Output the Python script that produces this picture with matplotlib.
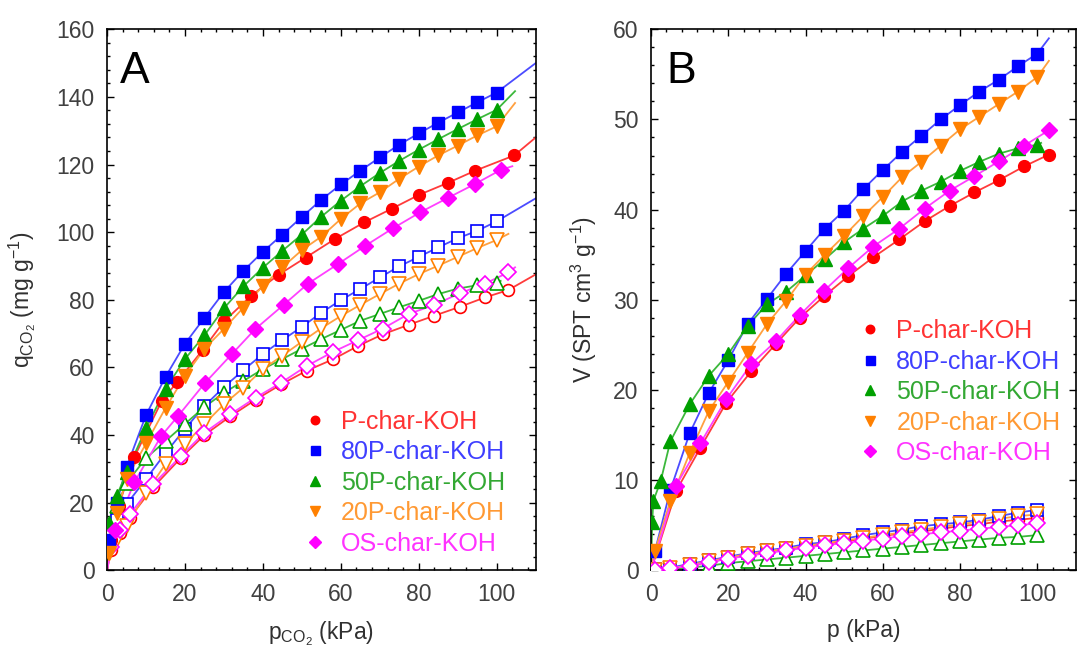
import numpy as np
import matplotlib.pyplot as plt
from matplotlib.lines import Line2D
from matplotlib.ticker import MultipleLocator, AutoMinorLocator

plt.rcParams.update({"font.family": ["Liberation Sans", "DejaVu Sans"],
                     "font.size": 16.5,
                     "mathtext.default": "regular"})

names = ["P-char-KOH", "80P-char-KOH", "50P-char-KOH", "20P-char-KOH", "OS-char-KOH"]
mk = ["o", "s", "^", "v", "D"]
mcol = ["#ff0000", "#0000ff", "#00a000", "#ff8000", "#ff00ff"]
lcol = ["#ff3b3b", "#4b4bff", "#3cb83c", "#ffa040", "#ff40ff"]
tcol = ["#ff3333", "#3f3fff", "#33a833", "#ff9933", "#ff33ff"]
msz = [8.5, 9, 9.5, 9.5, 8]

# ---- panel A : q_CO2 (mg/g) vs p_CO2 (kPa)
x5 = [0.5, 2.5, 5, 10, 15, 20, 25, 30, 35, 40, 45, 50, 55, 60, 65, 70, 75, 80, 85, 90, 95, 100]
x7 = [1, 3.3, 5.8, 11.8, 19, 25, 31.6, 38.2, 44.7, 51.2, 58, 64.5, 70.8, 77.4, 84, 90.5, 97, 103]

a_x_fill = [
    [1, 3, 7, 14, 18, 24.5, 30, 37, 44, 51, 58.5, 66, 73, 80, 87.5, 94.5, 104.5],
    x5, x5, x5,
    [2, 7, 13.9, 18.2, 25.2, 32, 38, 45.3, 51.6, 59.3, 66.3, 73.3, 80.4, 87.4, 94.5, 101],
]
a_y_fill = [
    [9, 19, 33.5, 50, 55.7, 65.1, 73.6, 81.2, 87.4, 92.5, 98, 102.9, 106.9, 111, 114.6, 118.2, 122.7],
    [9, 20, 30.5, 45.9, 57.2, 67, 74.7, 82.3, 88.6, 94.2, 99.3, 104.5, 109.6, 114.1, 118.2, 122.1, 125.9, 129.2, 132.4, 135.4, 138.4, 141.3],
    [14, 22, 29, 42, 53.6, 62.5, 69.5, 77.5, 84, 89.5, 94.5, 99.3, 104.6, 109.3, 113.6, 117.5, 121.1, 124.4, 127.5, 130.5, 133.4, 136.2],
    [5, 17, 27, 37.5, 48, 57.5, 65.5, 71.4, 77.7, 84.1, 89.6, 94.7, 98.7, 103.9, 108.5, 111.8, 115.8, 119.4, 122.7, 125.6, 128.6, 131.3],
    [12, 26, 39.7, 45.6, 55.5, 63.9, 71.3, 78.5, 84.8, 90.6, 96, 101.1, 105.9, 110.1, 114.3, 118.4],
]
a_end_fill = [(110, 128), (110, 150), (104.7, 141.7), (104.7, 138.2), (104, 119.5)]

a_x_open = [x7, x5, x5, x5, x7]
a_y_open = [
    [6, 11, 15.5, 24.5, 33.3, 40, 45.5, 50.5, 55, 59, 62.4, 66.4, 69.8, 72.6, 75.3, 77.9, 80.7, 82.9],
    [9.5, 15, 19.5, 27, 34.7, 41.8, 48.6, 54.2, 59.2, 64, 68.1, 72, 76.2, 79.9, 83.2, 86.6, 89.9, 92.7, 95.5, 98.2, 100.4, 103.2],
    [12, 19, 25.8, 33.2, 38.2, 43.3, 48.3, 52.5, 56, 59.5, 62.5, 65.5, 68.4, 71.1, 73.8, 75.8, 77.8, 79.7, 81.7, 83.3, 84.3, 85.1],
    [5, 9, 13, 22.9, 31.4, 37.3, 43.3, 49.1, 54, 59.5, 63.5, 67.6, 71.6, 75.2, 78.5, 81.7, 84.8, 87.6, 90.1, 92.7, 95.3, 97.7],
    [7, 12, 16.5, 25.4, 33.8, 40.7, 46.1, 51.1, 55.5, 60.4, 64.6, 68.1, 71.5, 75.8, 78.5, 81.9, 84.8, 88.1],
]
a_end_open = [(110, 87.5), (110, 110), (101, 85.6), (103, 99.5), (104.7, 89.6)]

# ---- panel B : V (cm3/g) vs p (kPa)
xb = [1, 5, 10, 15, 20, 25, 30, 35, 40, 45, 50, 55, 60, 65, 70, 75, 80, 85, 90, 95, 100]
xb7 = [6.5, 12.8, 19.5, 26, 32.3, 38.5, 44.8, 51, 57.5, 64.3, 70.8, 77.3, 83.7, 90.2, 96.6, 103]

b_x_fill = [xb7, xb,
            [0.3, 0.6, 2.5, 5, 10, 15, 20, 25, 30, 35, 40, 45, 50, 55, 60, 65, 70, 75, 80, 85, 90, 95, 100],
            xb, xb7]
b_y_fill = [
    [8.8, 13.6, 18.6, 22.1, 25.1, 28, 30.4, 32.6, 34.7, 36.7, 38.7, 40.4, 41.9, 43.3, 44.8, 46.1],
    [2.1, 8.9, 15.2, 19.7, 23.3, 27.3, 30.1, 32.9, 35.4, 37.9, 39.9, 42.3, 44.4, 46.4, 48.2, 50, 51.6, 53.1, 54.4, 55.9, 57.3],
    [5.4, 7.7, 9.9, 14.3, 18.4, 21.6, 24, 27.1, 29.5, 30.9, 32.7, 34.5, 36.4, 37.9, 39.3, 40.9, 42.1, 43.1, 44.3, 45.3, 46.2, 46.8, 47.2],
    [2.1, 7.7, 13, 17.7, 20.9, 24.1, 27.3, 29.9, 32.8, 35, 37.1, 39.3, 41.4, 43.6, 45.3, 47.1, 48.9, 50.3, 51.7, 53.1, 54.7],
    [9.4, 14.1, 19, 22.9, 25.4, 28.3, 31, 33.5, 35.9, 37.9, 40.1, 42.1, 43.7, 45.4, 47.1, 48.8],
]
b_end_fill = [(103.5, 46.4), (103, 59), (101, 47.4), (103, 56.5), (103.5, 49)]

b_y_open = [
    [0.0, 0.2, 0.5, 0.9, 1.3, 1.7, 2.0, 2.3, 2.6, 2.9, 3.2, 3.5, 3.8, 4.1, 4.3, 4.6, 4.9, 5.1, 5.4, 5.6, 5.8],
    [0.1, 0.3, 0.7, 1.1, 1.5, 1.9, 2.2, 2.5, 2.9, 3.1, 3.5, 3.9, 4.2, 4.5, 4.9, 5.1, 5.3, 5.6, 6.0, 6.4, 6.7],
    [0.0, 0.1, 0.3, 0.5, 0.8, 1.0, 1.2, 1.4, 1.6, 1.8, 2.0, 2.2, 2.4, 2.6, 2.8, 3.0, 3.2, 3.4, 3.6, 3.7, 3.9],
    [0.0, 0.2, 0.6, 1.0, 1.4, 1.8, 2.1, 2.4, 2.7, 3.0, 3.3, 3.6, 3.9, 4.2, 4.5, 4.8, 5.1, 5.4, 5.7, 6.0, 6.2],
    [0.0, 0.2, 0.5, 0.9, 1.3, 1.6, 1.9, 2.2, 2.5, 2.8, 3.0, 3.3, 3.5, 3.8, 4.0, 4.2, 4.4, 4.6, 4.8, 5.0, 5.2],
]


def draw(ax, xs, ys, end, i, filled):
    lx = [0] + list(xs) + ([end[0]] if end else [])
    ly = [0] + list(ys) + ([end[1]] if end else [])
    ax.plot(lx, ly, '-', color=lcol[i], lw=1.3, zorder=2)
    if filled:
        ax.plot(xs, ys, mk[i], ms=msz[i], color=mcol[i], mec=mcol[i], zorder=3)
    else:
        ax.plot(xs, ys, mk[i], ms=msz[i], mfc='white', mec=mcol[i], mew=1.2, zorder=3)


fig = plt.figure(figsize=(10.77, 6.51), dpi=100)
axA = fig.add_axes([0.0994, 0.124, 0.398, 0.831])
axB = fig.add_axes([0.6045, 0.124, 0.3945, 0.831])

for i in range(5):
    draw(axA, a_x_open[i], a_y_open[i], a_end_open[i], i, False)
for i in range(5):
    draw(axA, a_x_fill[i], a_y_fill[i], a_end_fill[i], i, True)
for i in range(5):
    draw(axB, xb, b_y_open[i], None, i, False)
for i in range(5):
    draw(axB, b_x_fill[i], b_y_fill[i], b_end_fill[i], i, True)

axA.set_xlim(0, 110)
axA.set_ylim(0, 160)
axA.yaxis.set_major_locator(MultipleLocator(20))
axB.set_xlim(0, 110)
axB.set_ylim(0, 60)
axB.yaxis.set_major_locator(MultipleLocator(10))

for ax in (axA, axB):
    ax.xaxis.set_major_locator(MultipleLocator(20))
    ax.xaxis.set_minor_locator(AutoMinorLocator(5))
    ax.yaxis.set_minor_locator(AutoMinorLocator(5))
    ax.tick_params(which='both', direction='in', top=True, right=True,
                   labelcolor='#404040', labelsize=16.5, pad=9, width=1)
    ax.tick_params(which='major', length=5)
    ax.tick_params(which='minor', length=2.5)
    for s in ax.spines.values():
        s.set_linewidth(1.2)

axA.set_xlabel(r'p$_{CO_2}$ (kPa)', fontsize=16.5, color='#303030')
axA.set_ylabel(r'q$_{CO_2}$ (mg g$^{-1}$)', fontsize=16.5, color='#303030')
axB.set_xlabel('p (kPa)', fontsize=16.5, color='#303030')
axB.set_ylabel(r'V (SPT cm$^3$ g$^{-1}$)', fontsize=16.5, color='#303030')
axA.xaxis.set_label_coords(0.5, -0.09)
axB.xaxis.set_label_coords(0.5, -0.09)
axA.yaxis.set_label_coords(-0.16, 0.5)
axB.yaxis.set_label_coords(-0.122, 0.5)

axA.text(0.03, 0.9, 'A', transform=axA.transAxes, fontsize=32, color='black')
axB.text(0.035, 0.9, 'B', transform=axB.transAxes, fontsize=32, color='black')

handles = [Line2D([], [], ls='', marker=mk[i], color=mcol[i], ms=msz[i] * 0.72) for i in range(5)]
for ax, anchor in ((axA, (0.414, 0.334)), (axB, (0.445, 0.501))):
    leg = ax.legend(handles, names, loc='upper left', bbox_to_anchor=anchor,
                    fontsize=18, handlelength=0.8, handletextpad=0.65,
                    labelspacing=0.26, borderpad=0.3, frameon=True,
                    facecolor='white', edgecolor='none', framealpha=1)
    for t, c in zip(leg.get_texts(), tcol):
        t.set_color(c)
    leg.set_zorder(5)

plt.savefig('out.png', dpi=100)
